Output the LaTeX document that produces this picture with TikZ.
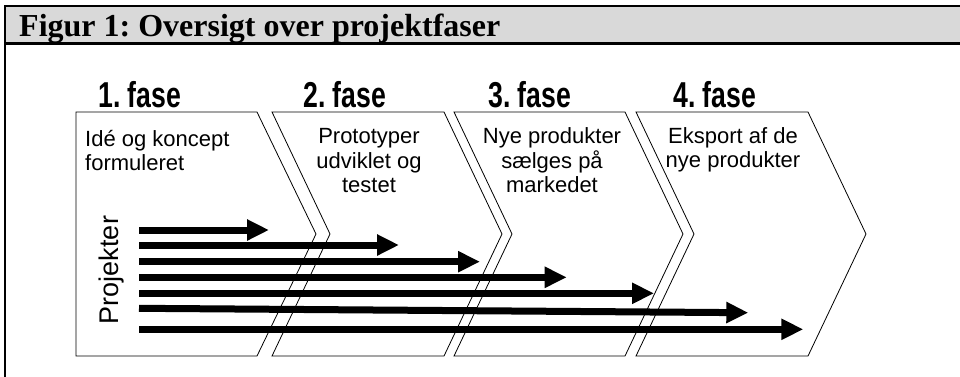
\documentclass[tikz,border=0pt]{standalone}
\usepackage{fontspec}
\setmainfont{Liberation Sans}
\newfontfamily\titelfont{Liberation Serif}
\newfontfamily\fasefont[FakeStretch=0.74]{Liberation Sans}
\usetikzlibrary{arrows.meta}
\frenchspacing
\tikzset{
 titel/.style={font=\titelfont\bfseries\fontsize{32}{32}\selectfont, anchor=base west, inner sep=0pt},
 fase/.style={font=\fasefont\bfseries\fontsize{36}{36}\selectfont, anchor=base west, inner sep=0pt},
 tekst/.style={font=\fontsize{22}{24.5}\selectfont, inner sep=0pt, anchor=base},
 felt/.style={draw=black, line width=0.8pt, fill=white},
 pil/.style={line width=7pt, -{Triangle[length=22pt,width=20pt]}},
 ramme/.style={line width=2.5pt}
}
\begin{document}
\begin{tikzpicture}[x=1pt,y=-1pt]
 \useasboundingbox (0,0) rectangle (960,376);
 % titelbjaelke
 \fill[black!15] (5,6) rectangle (962,43.3);
 \draw[ramme] (962,6) -- (5,6) -- (5,378);
 \draw[ramme] (5,43.3) -- (962,43.3);
 \node[titel] (titel) at (19,36) {Figur 1: Oversigt over projektfaser};
 % faser
 \draw[felt] (76,112) -- (257,112) -- (316,234) -- (257,356) -- (76,356) -- cycle;
 \draw[felt] (272,112) -- (444,112) -- (502,234) -- (444,356) -- (272,356) -- (330,234) -- cycle;
 \draw[felt] (454,112) -- (625,112) -- (683,234) -- (625,356) -- (454,356) -- (512,234) -- cycle;
 \draw[felt] (636,112) -- (808,112) -- (866,234) -- (808,356) -- (636,356) -- (694,234) -- cycle;
 \node[fase] (fase1) at (98,107) {1. fase};
 \node[fase] (fase2) at (303,107) {2. fase};
 \node[fase] (fase3) at (488,107) {3. fase};
 \node[fase] (fase4) at (673,107) {4. fase};
 \node[tekst, align=left, anchor=base west] (tekst1) at (85,170.7) {Idé og koncept\\formuleret};
 \node[tekst, align=center] (tekst2) at (369,192.5) {Prototyper\\udviklet og\\testet};
 \node[tekst, align=center] (tekst3) at (552,192.5) {Nye produkter\\sælges på\\markedet};
 \node[tekst, align=center] (tekst4) at (733,167.5) {Eksport af de\\nye produkter};
 % projekter
 \node[font=\fontsize{27}{27}\selectfont, rotate=90, inner sep=0pt] (projekter) at (111.7,270) {Projekter};
 \foreach \n/\ya/\yb/\xb in {1/230/230/269, 2/245/245/399, 3/261.7/261.7/480,
   4/277.3/277.3/566.7, 5/293.3/293.3/654, 6/308.3/312.7/748.3, 7/329.3/329.3/803.3}{
  \coordinate (start\n) at (139,\ya);
  \coordinate (slut\n) at (\xb,\yb);
  \draw[pil] (start\n) -- (slut\n);
 }
\end{tikzpicture}
\end{document}
